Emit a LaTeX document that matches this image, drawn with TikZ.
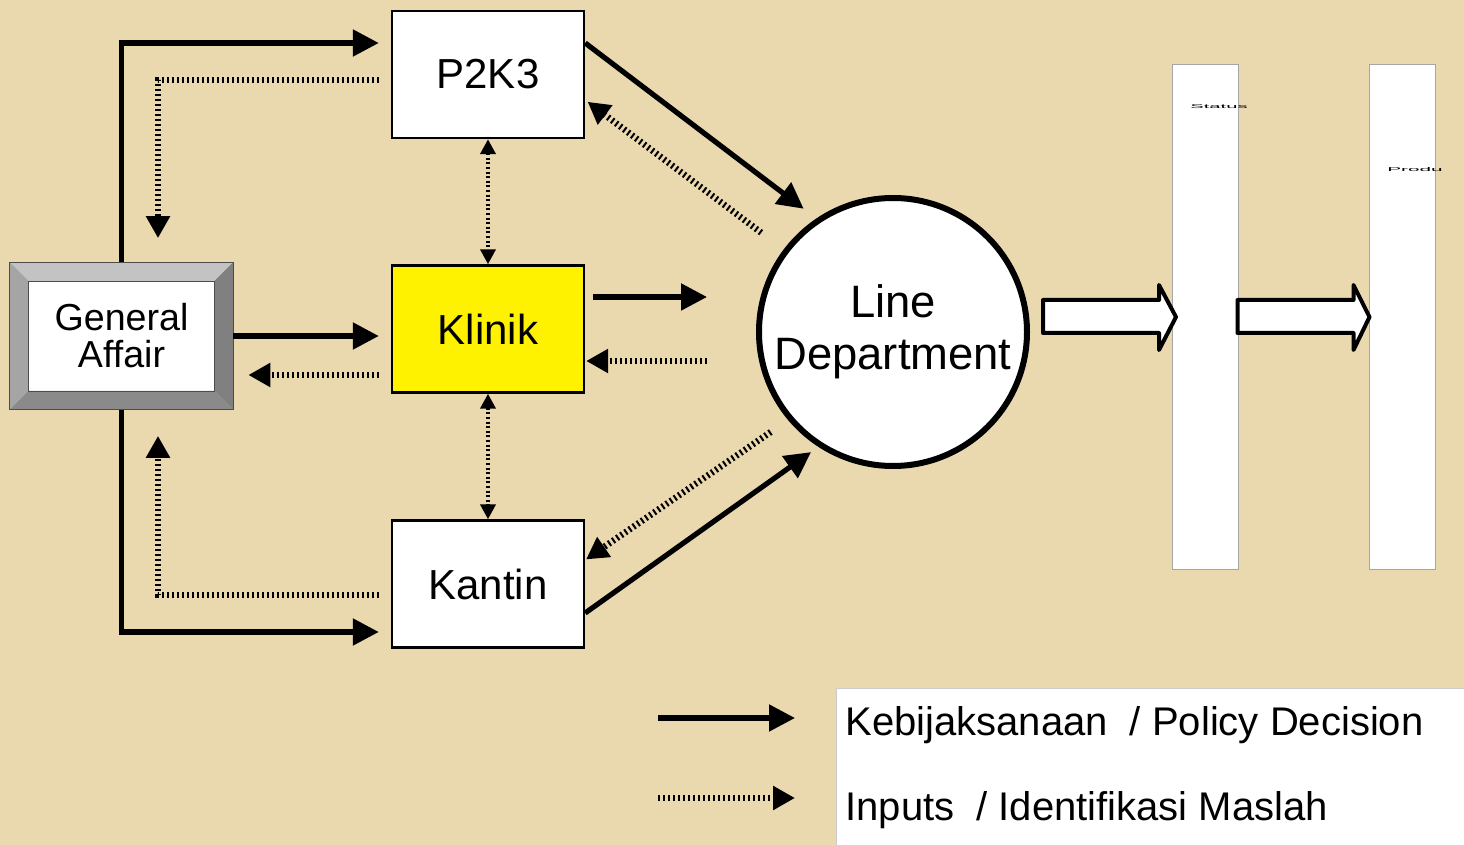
\documentclass[tikz,border=0pt]{standalone}
\usepackage{fontspec}
\setmainfont{Liberation Sans}
\usepackage{graphicx}
\usetikzlibrary{arrows.meta}
\definecolor{paper}{RGB}{234,216,175}
\definecolor{bevtop}{RGB}{195,195,195}
\definecolor{bevleft}{RGB}{165,165,165}
\definecolor{bevright}{RGB}{128,128,128}
\definecolor{bevbottom}{RGB}{138,138,138}
\tikzstyle{unit}=[rectangle, draw, fill=white, line width=1.2pt, minimum width=96pt, minimum height=63.5pt, font=\fontsize{21}{24}\selectfont]
\tikzstyle{bar}=[rectangle, draw=gray!70, fill=white, line width=0.5pt, minimum width=33pt, minimum height=252.5pt, inner sep=0pt]
\tikzstyle{tiny}=[inner sep=0pt, font=\fontsize{2.8}{3}\selectfont]
\tikzstyle{policy}=[line width=2.6pt, -{Triangle[length=13pt, width=13pt]}]
\tikzstyle{inputs}=[line width=3.2pt, dash pattern=on 1pt off 1.5pt, -{Triangle[length=11pt, width=11.5pt]}]
\tikzstyle{link}=[line width=2pt, dash pattern=on 1pt off 1.3pt, {Triangle[length=7.5pt, width=7.5pt]}-{Triangle[length=7.5pt, width=7.5pt]}]
\tikzstyle{blockarrow}=[draw, fill=white, line width=2pt, line join=round]
\tikzstyle{legendtext}=[anchor=base west, inner sep=0pt, font=\fontsize{20}{24}\selectfont]

\begin{document}
\begin{tikzpicture}[x=0.5pt, y=-0.5pt]
    \fill[paper] (0,0) rectangle (1464,845);
    \useasboundingbox (0,0) rectangle (1464,845);

    \node[unit] (p2k3) at (488, 74.5) {P2K3};
    \node[unit, fill=yellow] (klinik) at (488, 329) {Klinik};
    \node[unit] (kantin) at (488, 584) {Kantin};
    \node[rectangle, fill=white, minimum width=111.5pt, minimum height=73.5pt, align=center,
          font=\fontsize{18.8}{18.5}\selectfont] (ga) at (121.5, 336) {General\\Affair};
    \fill[bevtop] (ga.north west) -- (ga.north east) -- ([shift={(-9.5pt,-9.5pt)}]ga.north east) -- ([shift={(9.5pt,-9.5pt)}]ga.north west) -- cycle;
    \fill[bevleft] (ga.north west) -- ([shift={(9.5pt,-9.5pt)}]ga.north west) -- ([shift={(9.5pt,9.5pt)}]ga.south west) -- (ga.south west) -- cycle;
    \fill[bevright] (ga.north east) -- ([shift={(-9.5pt,-9.5pt)}]ga.north east) -- ([shift={(-9.5pt,9.5pt)}]ga.south east) -- (ga.south east) -- cycle;
    \fill[bevbottom] (ga.south west) -- ([shift={(9.5pt,9.5pt)}]ga.south west) -- ([shift={(-9.5pt,9.5pt)}]ga.south east) -- (ga.south east) -- cycle;
    \draw[gray!60!black, line width=0.5pt] (ga.north west) rectangle (ga.south east);
    \draw[gray!60!black, line width=0.3pt] ([shift={(9.5pt,-9.5pt)}]ga.north west) rectangle ([shift={(-9.5pt,9.5pt)}]ga.south east);

    \node[circle, draw, fill=white, line width=3pt, minimum size=134pt, inner sep=0pt, align=center,
          font=\fontsize{22.7}{26}\selectfont] (ld) at (893, 332) {Line\\Department};

    \node[bar] (status) at (1205, 317.5) {};
    \node[bar] (produ) at (1402, 317.5) {};
    \node[tiny] (statuslbl) at (1219, 107) {\scalebox{3.6}[1]{Status}};
    \node[tiny] (produlbl) at (1415, 170) {\scalebox{3.7}[1]{Produ}};

    \draw[blockarrow] ([xshift=6.5pt, yshift=16pt]ld.east) -- ++(58pt,0pt) -- ++(0pt,7.5pt) -- ++(8.5pt,-16pt)
        -- ++(-8.5pt,-16.5pt) -- ++(0pt,8.5pt) -- ++(-58pt,0pt) -- cycle;
    \draw[blockarrow] ([xshift=-0.5pt, yshift=8.75pt]status.east) -- ++(58pt,0pt) -- ++(0pt,7.5pt) -- ++(8pt,-16pt)
        -- ++(-8pt,-16.5pt) -- ++(0pt,8.5pt) -- ++(-58pt,0pt) -- cycle;

    \draw[policy, shorten >=6pt] (ga.north) |- ([yshift=15.75pt]p2k3.west);
    \draw[inputs, shorten <=6pt, shorten >=12pt] ([yshift=-2.75pt]p2k3.west) -| ([xshift=18.25pt]ga.north);
    \draw[policy, shorten >=6pt] (ga.east) -- (ga.east -| klinik.west);
    \draw[inputs, shorten <=6pt, shorten >=7.5pt] ([yshift=-23pt]klinik.west) -- ([yshift=-23pt]klinik.west -| ga.east);
    \draw[inputs, shorten <=6pt, shorten >=13pt] ([yshift=-5.5pt]kantin.west) -| ([xshift=18.25pt]ga.south);
    \draw[policy, shorten >=6pt] (ga.south) |- ([yshift=-24pt]kantin.west);

    \draw[link] (p2k3.south) -- (klinik.north);
    \draw[link] (klinik.south) -- (kantin.north);

    \draw[policy, shorten >=8pt] ([yshift=15.75pt]p2k3.east) -- (ld.124);
    \draw[inputs, shorten <=14pt, shorten >=1.5pt] (ld.143) -- ([yshift=-12.75pt]p2k3.east);
    \draw[policy, shorten <=4pt, shorten >=24.5pt] ([yshift=16pt]klinik.east) -- ([yshift=16pt]klinik.east -| ld.west);
    \draw[inputs, shorten <=24.5pt, shorten >=0.5pt] ([yshift=-16pt]klinik.east -| ld.west) -- ([yshift=-16pt]klinik.east);
    \draw[inputs, shorten <=10.5pt, shorten >=0.5pt] (ld.220.6) -- ([yshift=12pt]kantin.east);
    \draw[policy, shorten >=4.5pt] ([yshift=-14.5pt]kantin.east) -- (ld.237.6);

    \node[rectangle, draw=gray!40, fill=white, line width=0.5pt, minimum width=314pt, minimum height=78.5pt,
          inner sep=0pt, anchor=north west] (legend) at (836, 688) {};
    \node[legendtext] (policytxt) at (845, 735) {Kebijaksanaan~~/ Policy Decision};
    \node[legendtext] (inputstxt) at (845, 820) {Inputs~~/ Identifikasi Maslah};
    \coordinate (pa) at (658, 718);
    \coordinate (pb) at (795, 718);
    \coordinate (ia) at (658, 798);
    \coordinate (ib) at (795, 798);
    \draw[policy] (pa) -- (pb);
    \draw[inputs] (ia) -- (ib);
\end{tikzpicture}
\end{document}
